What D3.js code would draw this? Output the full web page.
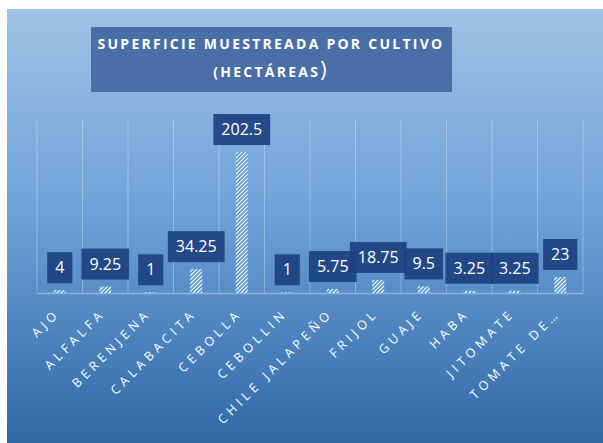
<!DOCTYPE html>
<html>
<head>
<meta charset="utf-8">
<script src="https://cdn.jsdelivr.net/npm/d3@7"></script>
<style>
  body { margin: 0; background: #fff; }
  svg { display: block; font-family: "Open Sans", sans-serif; }
</style>
</head>
<body>
<svg id="chart" width="603" height="443"></svg>
<script>
// crops and sampled area (hectares)
const cultivos = ["AJO", "ALFALFA", "BERENJENA", "CALABACITA", "CEBOLLA", "CEBOLLIN",
  "CHILE JALAPEÑO", "FRIJOL", "GUAJE", "HABA", "JITOMATE", "TOMATE DE…"];
const hectareas = [4, 9.25, 1, 34.25, 202.5, 1, 5.75, 18.75, 9.5, 3.25, 3.25, 23];
const yMax = 250;

const svg = d3.select("#chart");
const W = 603, H = 443;

// background gradient
const defs = svg.append("defs");
const grad = defs.append("linearGradient").attr("id", "bg")
  .attr("x1", 0).attr("y1", 0).attr("x2", 0).attr("y2", 1);
grad.append("stop").attr("offset", "0%").attr("stop-color", "#9dc3e6");
grad.append("stop").attr("offset", "45%").attr("stop-color", "#6fa3d8");
grad.append("stop").attr("offset", "100%").attr("stop-color", "#3168a8");

// wide upward diagonal hatch for the bars
const pat = defs.append("pattern").attr("id", "hatch")
  .attr("width", 4).attr("height", 4).attr("patternUnits", "userSpaceOnUse");
pat.append("rect").attr("width", 4).attr("height", 4).attr("fill", "#ffffff");
pat.append("path").attr("d", "M-1,1 l2,-2 M0,4 l4,-4 M3,5 l2,-2")
  .attr("stroke", "#5b97d6").attr("stroke-width", 1.7);

svg.append("rect").attr("x", 7).attr("y", 9)
  .attr("width", W - 7).attr("height", H - 9).attr("fill", "url(#bg)");

// title box
svg.append("rect").attr("x", 91).attr("y", 27).attr("width", 361).attr("height", 65)
  .attr("fill", "#4a6fa8");
const title = svg.append("text").attr("text-anchor", "middle").attr("fill", "#ffffff")
  .attr("font-weight", "bold").attr("font-size", 14).attr("letter-spacing", 2.25);
title.append("tspan").attr("x", 271).attr("y", 49).text("SUPERFICIE MUESTREADA POR CULTIVO");
const t2 = title.append("tspan").attr("x", 271).attr("y", 77);
t2.append("tspan").text("(HECTÁREAS");
t2.append("tspan").attr("font-size", 21).attr("font-weight", "normal").text(")");

// scales
const x = d3.scaleBand().domain(cultivos).range([37, 583]);
const y = d3.scaleLinear().domain([0, yMax]).range([293, 119]);

// vertical gridlines at category boundaries
const edges = cultivos.map(c => x(c)).concat([x.range()[1]]);
svg.append("g").selectAll("line").data(edges).join("line")
  .attr("x1", d => d).attr("x2", d => d)
  .attr("y1", y(yMax)).attr("y2", y(0))
  .attr("stroke", "#ffffff").attr("stroke-opacity", 0.3).attr("stroke-width", 1);

// baseline
svg.append("line").attr("x1", x.range()[0]).attr("x2", x.range()[1])
  .attr("y1", y(0) + 0.5).attr("y2", y(0) + 0.5)
  .attr("stroke", "#ffffff").attr("stroke-opacity", 0.35).attr("stroke-width", 1.5);

// bars
const barW = 12;
svg.append("g").selectAll("rect").data(cultivos).join("rect")
  .attr("x", (d) => x(d) + x.bandwidth() / 2 - barW / 2)
  .attr("width", barW)
  .attr("y", (d, i) => y(hectareas[i]))
  .attr("height", (d, i) => y(0) - y(hectareas[i]))
  .attr("fill", "url(#hatch)");

// data labels in dark boxes
const lab = svg.append("g").selectAll("g").data(cultivos).join("g");
lab.each(function (d, i) {
  const g = d3.select(this);
  const cx = x(d) + x.bandwidth() / 2;
  const bottom = y(hectareas[i]) - 7;
  const txt = g.append("text").attr("x", cx).attr("y", bottom - 10)
    .attr("text-anchor", "middle").attr("fill", "#ffffff").attr("font-size", 16)
    .text(hectareas[i]);
  const w = txt.node().getComputedTextLength() + 16;
  g.insert("rect", "text").attr("x", cx - w / 2).attr("y", bottom - 31)
    .attr("width", w).attr("height", 31)
    .attr("fill", "#1c3f80").attr("fill-opacity", 0.9);
});

// rotated category labels
svg.append("g").selectAll("text").data(cultivos).join("text")
  .attr("transform", d => `translate(${x(d) + x.bandwidth() / 2 + 1},${y(0) + 21}) rotate(-45)`)
  .attr("text-anchor", "end").attr("fill", "#ffffff")
  .attr("font-size", 12.5).attr("letter-spacing", 4.3)
  .text(d => d);
</script>
</body>
</html>
